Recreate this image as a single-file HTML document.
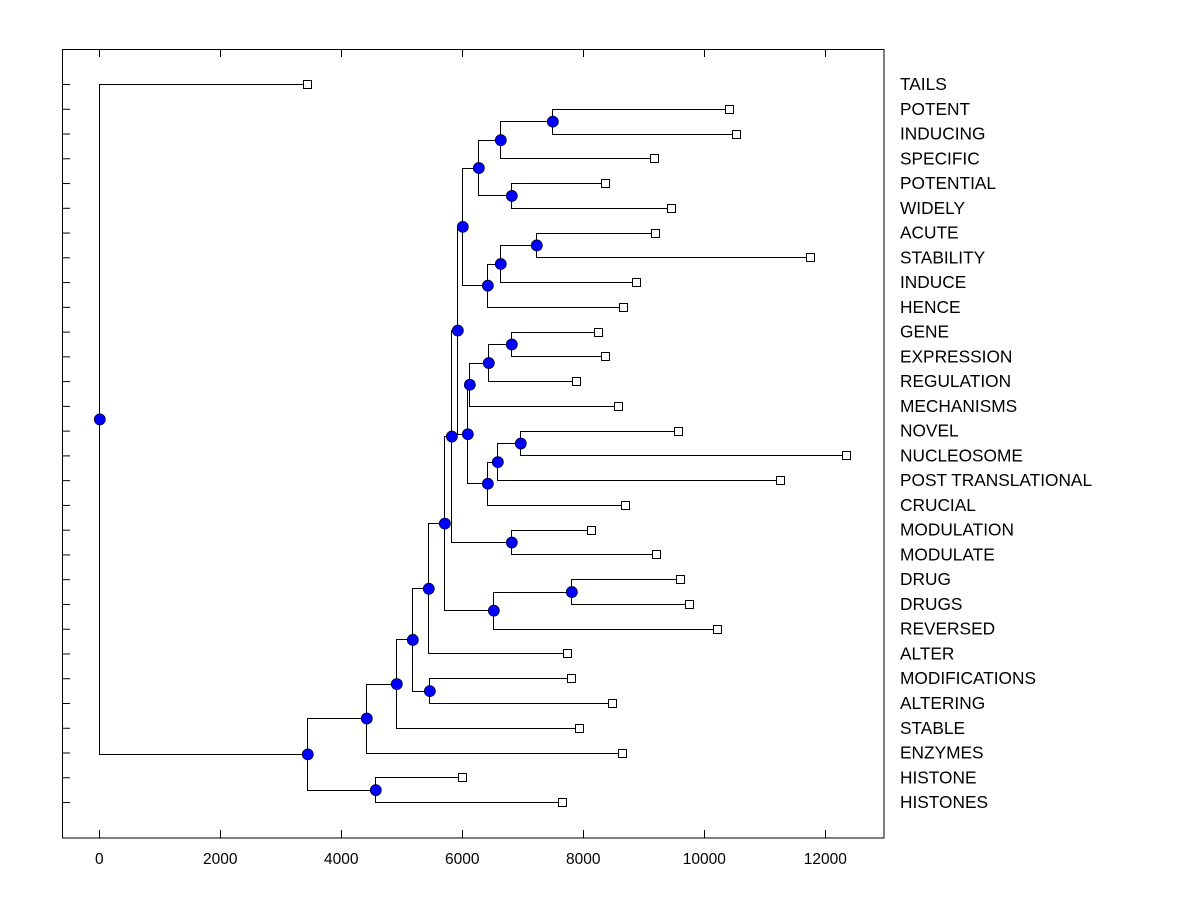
<!DOCTYPE html>
<html><head><meta charset="utf-8"><style>
body{margin:0;background:#fff}
text{font-family:"Liberation Sans",Arial,sans-serif;fill:#000}
</style></head><body>
<svg id="chart" width="1200" height="900">
<rect x="0" y="0" width="1200" height="900" fill="#fff"/>
<rect x="62.5" y="49.5" width="821.5" height="788.5" fill="none" stroke="#000" stroke-width="1"/>
<g id="g"></g>
</svg>
<script>
const leafNames=["TAILS","POTENT","INDUCING","SPECIFIC","POTENTIAL","WIDELY","ACUTE","STABILITY","INDUCE","HENCE","GENE","EXPRESSION","REGULATION","MECHANISMS","NOVEL","NUCLEOSOME","POST TRANSLATIONAL","CRUCIAL","MODULATION","MODULATE","DRUG","DRUGS","REVERSED","ALTER","MODIFICATIONS","ALTERING","STABLE","ENZYMES","HISTONE","HISTONES"];
const leafValues=[3438,10413,10529,9174,8364,9455,9190,11752,8876,8661,8248,8364,7884,8579,9570,12347,11256,8694,8132,9207,9604,9752,10215,7736,7802,8480,7934,8645,6000,7653];
const mergeLeft=[1,30,4,31,6,34,35,33,10,38,39,14,41,42,40,37,18,45,20,48,47,50,24,51,53,54,28,55,0];
const mergeRight=[2,3,5,32,7,8,9,36,11,12,13,15,16,17,43,44,19,46,21,22,49,23,25,52,26,27,29,56,57];
const mergeHeights=[7488,6628,6810,6265,7223,6628,6414,6000,6810,6430,6116,6959,6579,6414,6083,5918,6810,5819,7802,6513,5703,5438,5455,5174,4909,4413,4562,3438,0];
const xTicks=[0,2000,4000,6000,8000,10000,12000];

const NS="http://www.w3.org/2000/svg";
const g=document.getElementById('g');
const xs=v=>99.3+v*121/2000;
const ys=i=>84+i*24.76;
function mk(t,a){const e=document.createElementNS(NS,t);for(const k in a)e.setAttribute(k,a[k]);g.appendChild(e);return e;}
const nx=[],ny=[];
leafValues.forEach((v,i)=>{nx[i]=xs(v);ny[i]=ys(i);});
const N=leafNames.length;
mergeHeights.forEach((h,k)=>{const id=N+k;nx[id]=xs(h);ny[id]=(ny[mergeLeft[k]]+ny[mergeRight[k]])/2;});
leafNames.forEach((n,i)=>{
 const t=mk('line',{x1:62.5,x2:70,y1:ys(i)+0.5,y2:ys(i)+0.5,stroke:'#000'});
 
 
 const l=mk('text',{x:900,y:ys(i)+6,'font-size':17.3});
 l.textContent=n;
 
 
});
xTicks.forEach(v=>{
 const x=Math.round(xs(v))+0.5;
 const a=mk('line',{x1:x,x2:x,y1:838,y2:830,stroke:'#000'});
 
 
 const b=mk('line',{x1:x,x2:x,y1:49.5,y2:57,stroke:'#000'});
 
 
 const t=mk('text',{x:xs(v),y:864,'font-size':15.5,'text-anchor':'middle'});
 t.textContent=v;
 
 
});
mergeHeights.forEach((h,k)=>{
 const x=Math.round(nx[N+k])+0.5,a=mergeLeft[k],b=mergeRight[k];
 const ya=Math.round(ny[a])+0.5,yb=Math.round(ny[b])+0.5;
 const p=mk('path',{d:`M${Math.round(nx[a])} ${ya}H${x}V${yb}H${Math.round(nx[b])}`,fill:'none',stroke:'#000','stroke-width':1});
 
 
});
leafValues.forEach((v,i)=>{
 const r=mk('rect',{x:Math.round(nx[i])-3.5,y:Math.round(ny[i])-3.5,width:8,height:8,fill:'#fff',stroke:'#000'});
 
 
});
mergeHeights.forEach((h,k)=>{
 const c=mk('circle',{cx:nx[N+k]+0.5,cy:ny[N+k]+0.5,r:5.5,fill:'#0000ff',stroke:'#000033','stroke-width':0.8});
 
 
});
</script>
</body></html>
